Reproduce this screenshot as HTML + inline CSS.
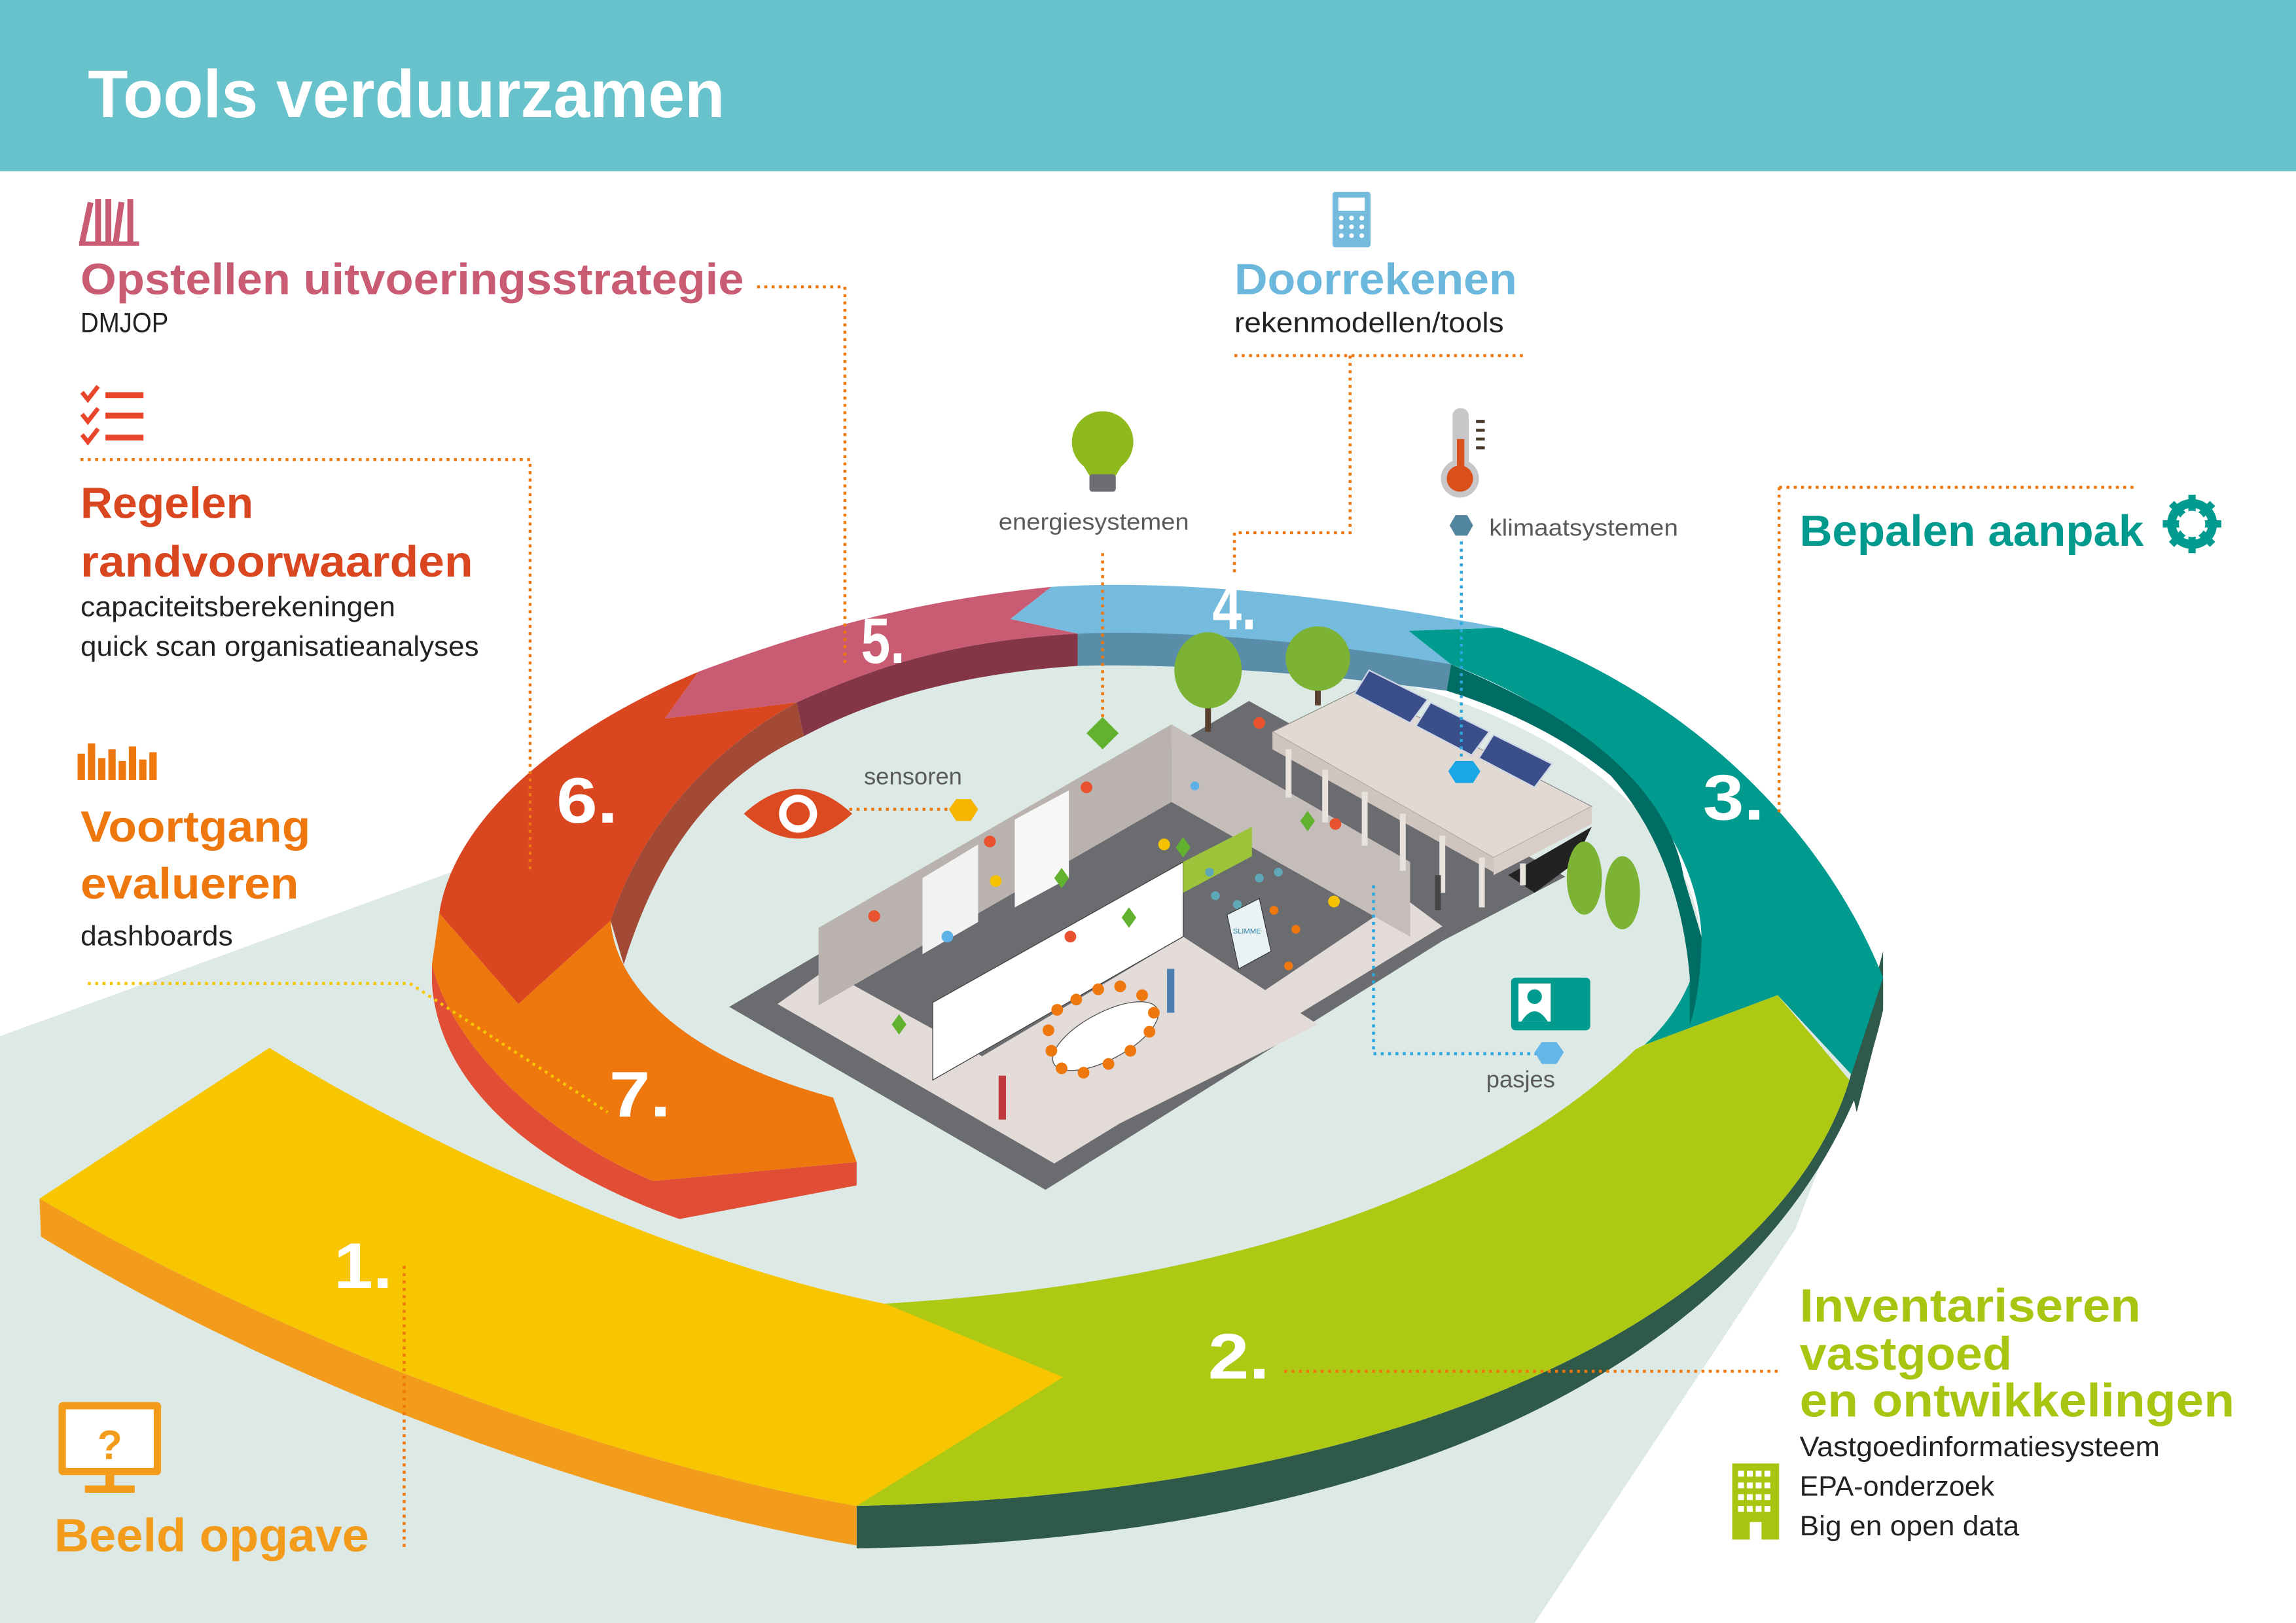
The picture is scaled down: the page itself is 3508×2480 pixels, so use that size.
<!DOCTYPE html>
<html><head><meta charset="utf-8"><style>
html,body{margin:0;padding:0;background:#fff;}
svg{display:block;}
text{font-family:"Liberation Sans",sans-serif;}
.h{font-weight:bold;}
</style></head><body>
<svg width="3508" height="2480" viewBox="0 0 1568 1109" preserveAspectRatio="none" xmlns="http://www.w3.org/2000/svg">
<rect width="1568" height="1109" fill="#fff"/>
<!-- header -->
<rect x="0" y="0" width="1568" height="117" fill="#68c2cb"/>
<text x="60" y="80" class="h" font-size="46" fill="#fff" textLength="435" lengthAdjust="spacingAndGlyphs">Tools verduurzamen</text>

<!-- light background -->
<polygon points="0,708 308,596 790,600 1280,700 1226,840 1048,1109 0,1109" fill="#dce9e4"/>
<ellipse cx="790" cy="650" rx="372" ry="205" fill="#dce9e4"/>

<!-- inner ring -->
<path d="M295,659 C310,720 380,780 446,807 L585,794 L585,810 L464,833 C370,800 300,745 295,672 Z" fill="#e24d35"/>
<path d="M300,624 L354,686 L417,629 C420,670 460,720 569,750 L585,794 L446,807 C380,780 310,720 295,659 Z" fill="#ee780e"/>
<path d="M300,624 C310,560 380,500 477,459 L454,491 L544,480 C490,510 440,560 417,629 L354,686 Z" fill="#d9461f"/>
<path d="M544,480 L549,503 C490,530 450,580 426,659 L417,629 C440,560 490,510 544,480 Z" fill="#a34a37"/>
<path d="M454,491 L477,459 C560,428 630,410 718,401 L690,423 L736,433 C650,438 600,455 544,480 Z" fill="#c95b72"/>
<path d="M544,480 C600,455 650,438 736,433 L736,455 C660,460 600,476 549,503 Z" fill="#843647"/>
<path d="M690,423 L718,401 C800,396 900,405 1025,429 L962,431 L991,454 C900,440 800,430 736,433 Z" fill="#74bbde"/>
<path d="M736,433 C800,430 900,438 991,454 L988,472 C900,460 800,453 736,455 Z" fill="#5a8ea8"/>
<path d="M1286,650 L1286,690 L1268,760 L1263,738 Z" fill="#2f5a4a"/>
<path d="M962,431 L1025,429 C1145,470 1243,560 1286,668 L1266,736 L1214,680 L1123,714 C1150,690 1160,660 1162,640 C1160,580 1110,500 991,454 Z" fill="#009a8e"/>
<path d="M991,454 C1083,492 1140,540 1150,600 L1162,640 C1162,665 1158,690 1154,700 L1154,668 C1150,620 1135,570 1100,530 C1070,505 1030,485 988,472 Z" fill="#006d64"/>

<!-- building -->
<polygon points="498,688 853,479 1069,599 985,643 714,813" fill="#6b6c70"/>
<polygon points="531,686 800,495 985,633 720,795" fill="#e2dbd7"/>
<polygon points="559,660 800,510 963,610 740,760" fill="#6b6c70"/>
<polygon points="640,740 808,640 900,700 720,790" fill="#e2dbd7"/>
<polygon points="559,634 800,495 800,548 559,687" fill="#b9b2af"/>
<polygon points="800,495 963,589 963,640 800,548" fill="#c4bdba"/>
<polygon points="630,600 668,577 668,630 630,652" fill="#f2f2f2"/>
<polygon points="693,560 730,540 730,600 693,620" fill="#f7f7f7"/>
<polygon points="637,685 808,589 808,640 637,738" fill="#ffffff" stroke="#444" stroke-width="0.6"/>
<polygon points="808,589 855,565 855,585 808,610" fill="#9bc43a"/>
<ellipse cx="755" cy="708" rx="40" ry="16" fill="#fff" stroke="#555" stroke-width="0.6" transform="rotate(-28 755 708)"/>
<g fill="#ee780e">
<circle cx="722" cy="690" r="4"/><circle cx="735" cy="683" r="4"/><circle cx="750" cy="676" r="4"/><circle cx="765" cy="674" r="4"/><circle cx="780" cy="680" r="4"/><circle cx="788" cy="692" r="4"/><circle cx="785" cy="705" r="4"/><circle cx="772" cy="718" r="4"/><circle cx="757" cy="727" r="4"/><circle cx="740" cy="733" r="4"/><circle cx="725" cy="730" r="4"/><circle cx="718" cy="718" r="4"/><circle cx="716" cy="704" r="4"/>
<circle cx="870" cy="622" r="3"/><circle cx="885" cy="635" r="3"/><circle cx="880" cy="660" r="3"/>
</g>
<g fill="#5fa8b8"><circle cx="830" cy="612" r="3"/><circle cx="845" cy="618" r="3"/><circle cx="860" cy="600" r="3"/><circle cx="826" cy="596" r="3"/><circle cx="873" cy="596" r="3"/></g>
<polygon points="838,625 860,614 868,650 846,662" fill="#e9f3f6" stroke="#333" stroke-width="0.5"/>
<text x="842" y="638" font-size="5" fill="#2a7fa0">SLIMME</text>
<!-- dots in building -->
<g fill="#e8522e"><circle cx="742" cy="538" r="4"/><circle cx="676" cy="575" r="4"/><circle cx="597" cy="626" r="4"/><circle cx="731" cy="640" r="4"/><circle cx="860" cy="494" r="4"/><circle cx="912" cy="563" r="4"/></g>
<g fill="#f4c200"><circle cx="680" cy="602" r="4"/><circle cx="911" cy="616" r="4"/><circle cx="795" cy="577" r="4"/></g>
<g fill="#5cb1e6"><circle cx="647" cy="640" r="4"/><circle cx="816" cy="537" r="3"/></g>
<g fill="#62b22f"><polygon points="725,593 730,600 725,607 720,600"/><polygon points="771,620 776,627 771,634 766,627"/><polygon points="614,693 619,700 614,707 609,700"/><polygon points="893,554 898,561 893,568 888,561"/><polygon points="808,572 813,579 808,586 803,579"/></g>
<!-- canopy -->
<polygon points="869,500 930,470 1087,551 1020,586" fill="#e2d9d2" stroke="#888" stroke-width="0.5"/>
<polygon points="869,500 1020,586 1020,596 869,512" fill="#cfc5be"/>
<polygon points="1020,586 1087,551 1087,563 1020,598" fill="#d8cec7"/>
<polygon points="1030,598 1087,565 1075,590 1048,610" fill="#222"/>
<g stroke="#e8e2dc" stroke-width="4">
<line x1="880" y1="512" x2="880" y2="545"/><line x1="905" y1="526" x2="905" y2="562"/><line x1="932" y1="541" x2="932" y2="578"/><line x1="958" y1="556" x2="958" y2="595"/><line x1="985" y1="571" x2="985" y2="610"/><line x1="1012" y1="586" x2="1012" y2="620"/><line x1="1040" y1="590" x2="1040" y2="605"/>
</g>
<g fill="#3a4f8a" stroke="#cfd6e4" stroke-width="1">
<polygon points="925,474 935,458 975,478 963,494"/>
<polygon points="967,496 977,480 1017,500 1005,516"/>
<polygon points="1010,518 1020,502 1060,522 1048,538"/>
</g>
<!-- trees -->
<rect x="823" y="470" width="4" height="30" fill="#5a4030"/>
<ellipse cx="825" cy="458" rx="23" ry="26" fill="#7db334"/>
<rect x="898" y="460" width="4" height="22" fill="#5a4030"/>
<ellipse cx="900" cy="450" rx="22" ry="22" fill="#7db334"/>
<ellipse cx="1082" cy="600" rx="12" ry="25" fill="#7db334"/>
<ellipse cx="1108" cy="610" rx="12" ry="25" fill="#7db334"/>
<!-- people -->
<rect x="682" y="735" width="5" height="30" fill="#c0393b"/>
<rect x="797" y="662" width="5" height="30" fill="#4a7fb0"/>
<rect x="980" y="598" width="4" height="24" fill="#444"/>

<!-- green segment 2 -->
<path d="M1263,738 C1220,880 1000,1020 585,1029 L585,1058 C1000,1052 1240,900 1286,690 L1286,668 Z" fill="#2f5a4a"/>
<path d="M600,891 C800,880 1000,830 1117,717 L1123,714 L1214,680 L1263,738 C1220,880 1000,1020 585,1029 Z" fill="#adc913"/>
<!-- yellow segment 1 -->
<path d="M27,819 C200,920 420,1000 585,1029 L585,1056 C420,1028 200,950 28,845 Z" fill="#f39c1b"/>
<path d="M27,819 L184,716 C270,770 450,860 605,891 L726,941 L585,1029 C420,1000 200,920 27,819 Z" fill="#f8c600"/>

<!-- connectors -->
<g fill="none" stroke="#ee780e" stroke-width="2" stroke-dasharray="2,3">
<polyline points="517,196 577,196 577,455"/>
<polyline points="843,243 1043,243"/>
<polyline points="922,243 922,364 843,364 843,392"/>
<polyline points="55,314 362,314 362,597"/>
<polyline points="1215,333 1458,333"/>
<polyline points="1215,333 1215,558"/>
<polyline points="877,937 1215,937"/>
<polyline points="276,865 276,1058"/>
<polyline points="753,378 753,493"/>
<polyline points="580,553 650,553"/>
</g>
<polyline points="60,672 280,672 415,760" fill="none" stroke="#f8c600" stroke-width="2" stroke-dasharray="2,3"/>
<g fill="none" stroke="#2aa7e0" stroke-width="2" stroke-dasharray="2,3">
<polyline points="998,370 998,520"/>
<polyline points="938,605 938,720 1052,720"/>
</g>
<polygon points="753,490 764,501 753,512 742,501" fill="#62b22f"/>
<polygon points="994,520 1006,520 1011,527 1006,535 994,535 989,527" fill="#1aa7e6"/>
<polygon points="653,546 663,546 668,553 663,561 653,561 648,553" fill="#f8b500"/>
<polygon points="1053,712 1063,712 1068,719 1063,727 1053,727 1048,719" fill="#64b5e8"/>
<polygon points="994,352 1002,352 1006,359 1002,366 994,366 990,359" fill="#52869e"/>

<!-- icons -->
<g fill="#c95b72">
<rect x="57" y="138" width="4" height="28" transform="rotate(12 59 152)"/>
<rect x="65" y="136" width="4" height="30"/><rect x="72" y="136" width="4" height="30"/>
<rect x="79" y="138" width="4" height="28" transform="rotate(8 81 152)"/>
<rect x="87" y="136" width="4" height="30"/><rect x="54" y="165" width="41" height="3"/>
</g>
<rect x="910" y="131" width="26" height="38" rx="2" fill="#74bbde"/>
<rect x="914" y="135" width="18" height="9" fill="#fff"/>
<g fill="#fff"><circle cx="916" cy="149" r="1.6"/><circle cx="923" cy="149" r="1.6"/><circle cx="930" cy="149" r="1.6"/><circle cx="916" cy="155" r="1.6"/><circle cx="923" cy="155" r="1.6"/><circle cx="930" cy="155" r="1.6"/><circle cx="916" cy="161" r="1.6"/><circle cx="923" cy="161" r="1.6"/><circle cx="930" cy="161" r="1.6"/></g>
<g fill="#e8452a">
<rect x="72" y="268" width="26" height="4"/><rect x="72" y="282" width="26" height="4"/><rect x="72" y="297" width="26" height="4"/>
</g>
<g fill="none" stroke="#e8452a" stroke-width="3"><polyline points="56,268 60,273 67,264"/><polyline points="56,283 60,288 67,279"/><polyline points="56,297 60,302 67,293"/></g>
<g fill="#ee780e">
<rect x="53" y="515" width="5" height="18"/><rect x="60" y="508" width="5" height="25"/><rect x="67" y="518" width="5" height="15"/><rect x="74" y="512" width="5" height="21"/><rect x="81" y="520" width="5" height="13"/><rect x="88" y="510" width="5" height="23"/><rect x="95" y="519" width="5" height="14"/><rect x="102" y="514" width="5" height="19"/>
</g>
<ellipse cx="753" cy="302" rx="21" ry="21" fill="#8fba1e"/>
<path d="M738,315 Q753,330 768,315 L762,325 L744,325 Z" fill="#8fba1e"/>
<rect x="744" y="324" width="18" height="12" rx="2" fill="#6d6e72"/>
<rect x="992" y="279" width="11" height="48" rx="5" fill="#c8c6c8"/>
<circle cx="997" cy="327" r="13" fill="#c8c6c8"/>
<rect x="995" y="300" width="5" height="28" fill="#d9501a"/>
<circle cx="997" cy="327" r="9" fill="#d9501a"/>
<g fill="#4a3a2a"><rect x="1008" y="287" width="6" height="2"/><rect x="1008" y="293" width="6" height="2"/><rect x="1008" y="299" width="6" height="2"/><rect x="1008" y="305" width="6" height="2"/></g>
<path d="M508,556 Q545,522 582,556 Q545,590 508,556 Z" fill="#dc4a22"/>
<circle cx="545" cy="556" r="13" fill="#fff"/><circle cx="545" cy="556" r="8" fill="#dc4a22"/>
<rect x="1032" y="668" width="54" height="36" rx="3" fill="#009a8e"/>
<rect x="1037" y="672" width="22" height="26" fill="#fff"/>
<circle cx="1048" cy="681" r="5" fill="#009a8e"/><path d="M1039,698 Q1048,684 1057,698 Z" fill="#009a8e"/>
<circle cx="1497" cy="358" r="14" fill="none" stroke="#009a8e" stroke-width="6"/>
<g stroke="#009a8e" stroke-width="5"><line x1="1497" y1="338" x2="1497" y2="378"/><line x1="1477" y1="358" x2="1517" y2="358"/><line x1="1483" y1="344" x2="1511" y2="372"/><line x1="1511" y1="344" x2="1483" y2="372"/></g>
<circle cx="1497" cy="358" r="9" fill="#fff"/>
<rect x="40" y="958" width="70" height="50" rx="3" fill="#f39c1b"/>
<rect x="45" y="963" width="60" height="40" fill="#fff"/>
<rect x="72" y="1008" width="6" height="8" fill="#f39c1b"/><rect x="58" y="1015" width="34" height="5" fill="#f39c1b"/>
<text x="75" y="997" class="h" font-size="28" fill="#f39c1b" text-anchor="middle">?</text>
<rect x="1183" y="1000" width="32" height="52" fill="#a8c512"/>
<g fill="#fff">
<rect x="1187" y="1005" width="4" height="4"/><rect x="1193" y="1005" width="4" height="4"/><rect x="1199" y="1005" width="4" height="4"/><rect x="1205" y="1005" width="4" height="4"/>
<rect x="1187" y="1013" width="4" height="4"/><rect x="1193" y="1013" width="4" height="4"/><rect x="1199" y="1013" width="4" height="4"/><rect x="1205" y="1013" width="4" height="4"/>
<rect x="1187" y="1021" width="4" height="4"/><rect x="1193" y="1021" width="4" height="4"/><rect x="1199" y="1021" width="4" height="4"/><rect x="1205" y="1021" width="4" height="4"/>
<rect x="1187" y="1029" width="4" height="4"/><rect x="1193" y="1029" width="4" height="4"/><rect x="1199" y="1029" width="4" height="4"/><rect x="1205" y="1029" width="4" height="4"/>
<rect x="1195" y="1040" width="8" height="12"/>
</g>

<!-- headings -->
<text x="55" y="201" class="h" font-size="30" fill="#c95b72" textLength="453" lengthAdjust="spacingAndGlyphs">Opstellen uitvoeringsstrategie</text>
<text x="55" y="227" font-size="19" fill="#222" textLength="60" lengthAdjust="spacingAndGlyphs">DMJOP</text>
<text x="843" y="201" class="h" font-size="30" fill="#6cb8dc" textLength="193" lengthAdjust="spacingAndGlyphs">Doorrekenen</text>
<text x="843" y="227" font-size="19" fill="#222" textLength="184" lengthAdjust="spacingAndGlyphs">rekenmodellen/tools</text>
<text x="55" y="354" class="h" font-size="30" fill="#d9461f" textLength="118" lengthAdjust="spacingAndGlyphs">Regelen</text>
<text x="55" y="394" class="h" font-size="30" fill="#d9461f" textLength="268" lengthAdjust="spacingAndGlyphs">randvoorwaarden</text>
<text x="55" y="421" font-size="19" fill="#222" textLength="215" lengthAdjust="spacingAndGlyphs">capaciteitsberekeningen</text>
<text x="55" y="448" font-size="19" fill="#222" textLength="272" lengthAdjust="spacingAndGlyphs">quick scan organisatieanalyses</text>
<text x="55" y="575" class="h" font-size="30" fill="#ee780e" textLength="157" lengthAdjust="spacingAndGlyphs">Voortgang</text>
<text x="55" y="614" class="h" font-size="30" fill="#ee780e" textLength="149" lengthAdjust="spacingAndGlyphs">evalueren</text>
<text x="55" y="646" font-size="19" fill="#222" textLength="104" lengthAdjust="spacingAndGlyphs">dashboards</text>
<text x="1229" y="373" class="h" font-size="30" fill="#009a8e" textLength="235" lengthAdjust="spacingAndGlyphs">Bepalen aanpak</text>
<text x="1229" y="903" class="h" font-size="32" fill="#a8c512" textLength="233" lengthAdjust="spacingAndGlyphs">Inventariseren</text>
<text x="1229" y="936" class="h" font-size="32" fill="#a8c512" textLength="145" lengthAdjust="spacingAndGlyphs">vastgoed</text>
<text x="1229" y="968" class="h" font-size="32" fill="#a8c512" textLength="297" lengthAdjust="spacingAndGlyphs">en ontwikkelingen</text>
<text x="1229" y="995" font-size="19" fill="#222" textLength="246" lengthAdjust="spacingAndGlyphs">Vastgoedinformatiesysteem</text>
<text x="1229" y="1022" font-size="19" fill="#222" textLength="133" lengthAdjust="spacingAndGlyphs">EPA-onderzoek</text>
<text x="1229" y="1049" font-size="19" fill="#222" textLength="150" lengthAdjust="spacingAndGlyphs">Big en open data</text>
<text x="37" y="1060" class="h" font-size="32" fill="#f39c1b" textLength="215" lengthAdjust="spacingAndGlyphs">Beeld opgave</text>
<g font-size="16" fill="#5a5a5a">
<text x="682" y="362" textLength="130" lengthAdjust="spacingAndGlyphs">energiesystemen</text>
<text x="1017" y="366" textLength="129" lengthAdjust="spacingAndGlyphs">klimaatsystemen</text>
<text x="590" y="536" textLength="67" lengthAdjust="spacingAndGlyphs">sensoren</text>
<text x="1015" y="743" textLength="47" lengthAdjust="spacingAndGlyphs">pasjes</text>
</g>
<g class="h" font-size="44" fill="#fff" font-weight="bold">
<text x="588" y="453" textLength="30" lengthAdjust="spacingAndGlyphs">5.</text>
<text x="828" y="430" textLength="30" lengthAdjust="spacingAndGlyphs">4.</text>
<text x="1163" y="560" textLength="42" lengthAdjust="spacingAndGlyphs">3.</text>
<text x="380" y="562" textLength="42" lengthAdjust="spacingAndGlyphs">6.</text>
<text x="416" y="763" textLength="42" lengthAdjust="spacingAndGlyphs">7.</text>
<text x="228" y="880" textLength="40" lengthAdjust="spacingAndGlyphs">1.</text>
<text x="825" y="942" textLength="42" lengthAdjust="spacingAndGlyphs">2.</text>
</g>
</svg>
</body></html>
